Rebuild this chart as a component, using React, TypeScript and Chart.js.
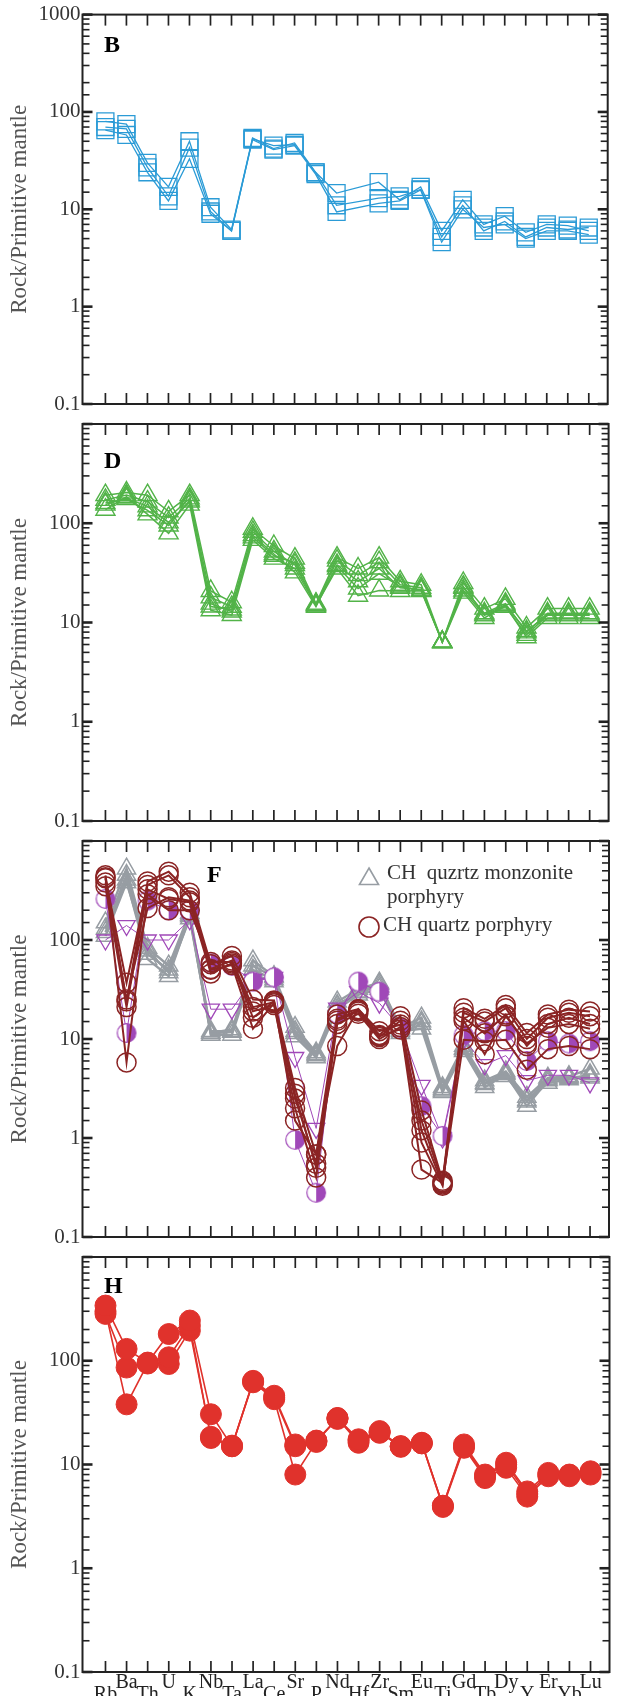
import React, { useEffect, useRef } from 'react';
import { Chart, registerables } from 'chart.js';

Chart.register(...registerables);

const ELEMENTS = ['Rb', 'Ba', 'Th', 'U', 'K', 'Nb', 'Ta', 'La', 'Ce', 'Sr', 'P', 'Nd', 'Hf', 'Zr', 'Sm', 'Eu', 'Ti', 'Gd', 'Tb', 'Dy', 'Y', 'Er', 'Yb', 'Lu'];
const Y_TITLE = 'Rock/Primitive mantle';
const Y_LABELLED = [0.1, 1, 10, 100, 1000];
const LEGEND_F = ['CH  quzrtz monzonite', 'porphyry', 'CH quartz porphyry'];

// Panel B (blue squares)
const B1 = [80, 75, 30, 17, 50, 10.5, 6.2, 54, 42, 48, 24, 14.7, null, 19, 12.5, 17, 6, 12.5, 7, 8.5, 5.8, 7, 6.8, 6];
const B2 = [70, 67, 27, 13.6, 43, 9.5, 6, 53, 45, 46, 24, 11, null, 13, 13.6, 16, 5.2, 11, 6, 7.5, 5.2, 6.5, 6.2, 6.5];
const B3 = [65, 58, 24, 12.2, 33, 9, 6, 52, 41, 45, 23, 9.4, null, 11.5, 12.2, 15.8, 4.6, 10, 6.5, 7, 5, 6, 6, 5.5];

// Panel D (green triangles)
const D1 = [192, 204, 192, 132, 192, 20.8, 16, 88, 59, 44, 15.5, 45, 35, 45, 26, 24, 6.4, 25, 13.8, 17.3, 8.9, 13.8, 13.8, 13.8];
const D2 = [172, 192, 165, 114, 178, 17.9, 14.4, 82, 52, 38, 15, 42, 30, 40.5, 24, 22.4, 6.3, 22.4, 12.4, 15.5, 7.95, 12.4, 12.4, 12.4];
const D3 = [154, 178, 148, 102, 165, 15.5, 12.9, 76, 49, 32, 14.4, 38, 26, 35, 22.4, 21.5, 6.4, 21, 11.8, 14.4, 7.5, 11.8, 11.8, 11.8];
const D4 = [137, 185, 123, 79, 154, 13.3, 11.9, 68, 44, 35, 14.8, 35, 18.6, 21, 20.8, 20.8, 6.3, 20, 11.1, 14.8, 7.1, 11.1, 11.1, 11.1];
const D5 = [160, 175, 135, 95, 170, 14.5, 13.5, 72, 47, 40, 15.2, 37, 22, 31, 23, 21, 6.4, 23, 12, 15, 8.2, 12, 12, 12];

// Panel F: grey triangles (CH quzrtz monzonite porphyry)
const FG1 = [150, 525, 83, 55, 187, 12, 12, 62, 43, 13.2, 7.3, 23.8, 32, 37, 13, 16.4, 3.25, 8.5, 3.8, 4.7, 2.6, 4.05, 4.2, 5];
const FG2 = [130, 453, 72, 50, 180, 11.4, 11.8, 55, 42, 11.4, 6.8, 21.3, 29.5, 34, 11.4, 14.2, 3.0, 7.9, 3.5, 4.2, 2.33, 3.6, 3.9, 4.4];
const FG3 = [120, 405, 64, 43, 174, 11, 11, 50, 40, 10.6, 6.5, 20, 28, 32, 12, 12.7, 2.9, 7.5, 3.25, 4.4, 2.1, 3.8, 4.0, 4.05];
const FG4 = [110, 380, 78, 47, 165, 11.5, 12.5, 45, 38, 12, 7, 22, 30, 36, 12.5, 15, 3.1, 8, 3.6, 4.5, 2.4, 3.9, 4.1, 4.2];
// Panel F: purple inverted triangles and half-filled circles
const FP1 = [100, 140, 100, 100, 160, 20, 20, 40, 42, 6.5, 1.25, 20.5, 30, 23, 13, 3.4, 1.0, 10, 5.5, 6.8, 3.8, 4.3, 4.3, 3.6];
const FH1 = [260, 11.5, 250, 200, 200, 58, 55, 38, 42, 0.96, 0.28, 18, 38, 30, 13, 2.1, 1.05, 11, 12, 12, 6, 9.5, 9, 9.5];
// Panel F: dark red circles (CH quartz porphyry)
const FR1 = [450, 24, 390, 490, 300, 57, 69, 25, 24.5, 3.2, 0.68, 17.7, 20, 11, 17, 1.9, 0.37, 20.5, 16, 22, 11.5, 17.7, 19.8, 19];
const FR2 = [420, 37, 360, 450, 270, 51, 62, 21, 23.5, 2.8, 0.5, 15.3, 19, 10.5, 15.3, 1.2, 0.34, 18.4, 15, 20.5, 10, 16.4, 18.4, 17];
const FR3 = [350, 21, 325, 260, 240, 46, 58, 19, 22, 2.0, 0.4, 14.2, 18, 10, 13.2, 0.9, 0.33, 16.4, 11.4, 17.7, 8.5, 14.2, 16.4, 14.2];
const FR4 = [430, 5.8, 290, 200, 200, 60, 60, 16.4, 24, 1.5, 0.68, 8.5, 20, 12, 14, 0.48, 0.35, 9.8, 9.5, 9.8, 4.9, 7.9, 8.5, 7.9];
const FR5 = [380, 25, 210, 270, 250, 50, 56, 12.7, 23, 2.5, 0.55, 16, 19.5, 10.7, 12.5, 1.5, 0.36, 15.3, 7, 17, 9, 13, 14.2, 12.7];

// Panel H (red filled circles)
const H1 = [340, 130, 96, 181, 244, 30.5, 15, 64, 46, 15.6, 16.8, 28, 17.5, 21, 15, 16.2, 4.0, 15.6, 8.0, 10.4, 5.5, 8.3, 8.0, 8.6];
const H2 = [283, 86, 95, 108, 218, 18, 15, 62, 42.6, 8.0, 16.5, 28, 16.2, 20.2, 15, 16, 3.9, 14.5, 7.4, 9.3, 4.9, 7.7, 7.7, 8.0];
const H3 = [300, 38, 94, 93, 195, 18.5, 15.2, 63, 44, 15, 17, 27.5, 17, 20.5, 14.8, 16, 4.0, 15, 7.8, 10, 5.2, 8, 7.9, 8.3];

const W = 621;
const PLOT_LEFT = 82.5;
const PLOT_RIGHT = 615;
const X_MIN = -1.09;
const X_MAX = 23.9;
const SERIF = "'Liberation Serif', 'Times New Roman', serif";

const BLUE = '#2b9bd6';
const GREEN = '#52b348';
const GREY = '#979da3';
const DARKRED = '#8b2424';
const PURPLE = '#a048b8';
const RED = '#e0322c';

const isPow10 = (v: number) => {
  const l = Math.log10(v);
  return Math.abs(l - Math.round(l)) < 1e-6;
};

function makeHalfCircle(): HTMLCanvasElement {
  const c = document.createElement('canvas');
  c.width = 22;
  c.height = 22;
  const g = c.getContext('2d')!;
  g.beginPath();
  g.arc(11, 11, 9.3, 0, Math.PI * 2);
  g.fillStyle = '#ffffff';
  g.fill();
  g.beginPath();
  g.moveTo(11, 11);
  g.arc(11, 11, 9.3, -Math.PI / 2, Math.PI / 2);
  g.closePath();
  g.fillStyle = PURPLE;
  g.fill();
  g.beginPath();
  g.arc(11, 11, 9.3, 0, Math.PI * 2);
  g.strokeStyle = PURPLE;
  g.lineWidth = 1.2;
  g.stroke();
  return c;
}

function ds(arr: (number | null)[], o: any) {
  return {
    data: arr.map((v, i) => ({ x: i, y: v })),
    borderColor: o.line,
    borderWidth: o.lw,
    pointStyle: o.style,
    pointRadius: o.r,
    pointBorderColor: o.color,
    pointBackgroundColor: o.fill,
    pointBorderWidth: o.pbw,
    pointRotation: o.rot || 0,
    fill: false,
    tension: 0,
    spanGaps: true,
    order: o.order || 0,
  };
}

function line(ctx: CanvasRenderingContext2D, x1: number, y1: number, x2: number, y2: number) {
  ctx.beginPath();
  ctx.moveTo(x1, y1);
  ctx.lineTo(x2, y2);
  ctx.stroke();
}

const framePlugin = {
  id: 'frame',
  afterDraw(chart: any, _args: any, opts: any) {
    const { ctx, chartArea: a, scales } = chart;
    const x = scales.x;
    const y = scales.y;
    ctx.save();
    ctx.strokeStyle = '#222';
    ctx.lineWidth = 1.7;
    ELEMENTS.forEach((_, i) => {
      const px = x.getPixelForValue(i);
      line(ctx, px, a.top, px, a.top + 11);
      line(ctx, px, a.bottom - 11, px, a.bottom);
    });
    y.ticks.forEach((t: any) => {
      const py = y.getPixelForValue(t.value);
      const major = isPow10(t.value);
      ctx.lineWidth = major ? 2.6 : 1.6;
      const len = major ? 10 : 7;
      line(ctx, a.left, py, a.left + len, py);
      line(ctx, a.right - len, py, a.right, py);
    });
    ctx.lineWidth = 2;
    ctx.strokeRect(a.left, a.top, a.right - a.left, a.bottom - a.top);

    ctx.fillStyle = '#000';
    ctx.font = `bold 24px ${SERIF}`;
    ctx.textAlign = 'left';
    ctx.textBaseline = 'alphabetic';
    ctx.fillText(opts.letter, opts.letterX, a.top + opts.letterDy);

    if (opts.legend) {
      // grey triangle
      const tx = 369, ty = a.top + 38, r = 11;
      ctx.strokeStyle = GREY;
      ctx.lineWidth = 1.6;
      ctx.beginPath();
      ctx.moveTo(tx, ty - r);
      ctx.lineTo(tx + r * 0.866, ty + r / 2);
      ctx.lineTo(tx - r * 0.866, ty + r / 2);
      ctx.closePath();
      ctx.stroke();
      // dark red circle
      ctx.strokeStyle = DARKRED;
      ctx.beginPath();
      ctx.arc(369, a.top + 86, 10, 0, Math.PI * 2);
      ctx.stroke();
      ctx.fillStyle = '#333';
      ctx.font = `21px ${SERIF}`;
      ctx.textBaseline = 'middle';
      ctx.fillText(LEGEND_F[0], 387, a.top + 32);
      ctx.fillText(LEGEND_F[1], 387, a.top + 56);
      ctx.fillText(LEGEND_F[2], 383, a.top + 84);
    }
    ctx.restore();
  },
};

type PanelCfg = {
  top: number;
  bottom: number;
  canvasTop: number;
  canvasBottom: number;
  letter: string;
  letterX: number;
  letterDy: number;
  showTopLabel: boolean;
  showX: boolean;
  legend: boolean;
  datasets: () => any[];
};

const PANELS: PanelCfg[] = [
  {
    top: 10, bottom: 424, canvasTop: 0, canvasBottom: 444, letter: 'B', letterX: 104, letterDy: 37,
    showTopLabel: true, showX: false, legend: false,
    datasets: () => [B1, B2, B3].map((a) => ds(a, { line: BLUE, lw: 1.3, style: 'rect', r: 12, color: BLUE, fill: 'rgba(0,0,0,0)', pbw: 1.3 })),
  },
  {
    top: 424, bottom: 841, canvasTop: 404, canvasBottom: 861, letter: 'D', letterX: 104, letterDy: 44,
    showTopLabel: false, showX: false, legend: false,
    datasets: () => [D1, D2, D3, D4, D5].map((a) => ds(a, { line: GREEN, lw: 1.5, style: 'triangle', r: 11, color: GREEN, fill: 'rgba(0,0,0,0)', pbw: 1.4 })),
  },
  {
    top: 841, bottom: 1257, canvasTop: 821, canvasBottom: 1277, letter: 'F', letterX: 207, letterDy: 41,
    showTopLabel: false, showX: false, legend: true,
    datasets: () => {
      const half = makeHalfCircle();
      return [
        ...[FR1, FR2, FR3, FR4, FR5].map((a) => ds(a, { line: DARKRED, lw: 2, style: 'circle', r: 9.5, color: DARKRED, fill: 'rgba(255,255,255,0)', pbw: 1.5, order: 0 })),
        ds(FH1, { line: PURPLE, lw: 1, style: half, r: 9.5, color: PURPLE, fill: PURPLE, pbw: 1.2, order: 1 }),
        ds(FP1, { line: PURPLE, lw: 1, style: 'triangle', r: 10, color: PURPLE, fill: 'rgba(0,0,0,0)', pbw: 1.3, rot: 180, order: 1 }),
        ...[FG1, FG2, FG3, FG4].map((a) => ds(a, { line: GREY, lw: 2.4, style: 'triangle', r: 10.5, color: GREY, fill: 'rgba(0,0,0,0)', pbw: 1.5, order: 2 })),
      ];
    },
  },
  {
    top: 1257, bottom: 1672, canvasTop: 1237, canvasBottom: 1696, letter: 'H', letterX: 104, letterDy: 36,
    showTopLabel: false, showX: true, legend: false,
    datasets: () => [H1, H2, H3].map((a) => ds(a, { line: RED, lw: 1.6, style: 'circle', r: 10.5, color: RED, fill: RED, pbw: 1 })),
  },
];

function Panel({ cfg }: { cfg: PanelCfg }) {
  const ref = useRef<HTMLCanvasElement | null>(null);
  const h = cfg.canvasBottom - cfg.canvasTop;
  useEffect(() => {
    const padTop = cfg.top - cfg.canvasTop;
    const padBottom = cfg.showX ? 0 : cfg.canvasBottom - cfg.bottom;
    const xHeight = cfg.canvasBottom - cfg.bottom;
    const chart = new Chart(ref.current!, {
      type: 'line',
      data: { datasets: cfg.datasets() },
      plugins: [framePlugin as any],
      options: {
        responsive: false,
        animation: false,
        events: [],
        layout: { padding: { left: 0, right: W - PLOT_RIGHT, top: padTop, bottom: padBottom } },
        plugins: {
          legend: { display: false },
          tooltip: { enabled: false },
          frame: { letter: cfg.letter, letterX: cfg.letterX, letterDy: cfg.letterDy, legend: cfg.legend },
        } as any,
        scales: {
          x: {
            type: 'linear',
            min: X_MIN,
            max: X_MAX,
            display: cfg.showX,
            grid: { display: false, drawTicks: false },
            border: { display: false },
            afterBuildTicks: (s: any) => {
              s.ticks = ELEMENTS.map((_, i) => ({ value: i }));
            },
            afterFit: (s: any) => {
              s.height = xHeight;
            },
            ticks: {
              autoSkip: false,
              maxRotation: 0,
              minRotation: 0,
              padding: 5,
              color: '#222',
              font: { family: SERIF, size: 20, lineHeight: '12px' } as any,
              callback: (v: any) => {
                const i = Math.round(Number(v));
                const lab = ELEMENTS[i] ?? '';
                return i % 2 === 0 ? ['', lab] : lab;
              },
            },
          },
          y: {
            type: 'logarithmic',
            min: 0.1,
            max: 1000,
            position: 'left',
            grid: { display: false, drawTicks: false },
            border: { display: false },
            afterFit: (s: any) => {
              s.width = PLOT_LEFT;
            },
            ticks: {
              autoSkip: false,
              padding: 2,
              color: '#333',
              font: { family: SERIF, size: 21 },
              callback: (v: any) => {
                const n = Number(v);
                if (!Y_LABELLED.some((t) => Math.abs(t - n) / t < 1e-6)) return '';
                if (n > 999 && !cfg.showTopLabel) return '';
                return n < 1 ? '0.1' : String(Math.round(n));
              },
            },
            title: {
              display: true,
              text: Y_TITLE,
              color: '#555',
              font: { family: SERIF, size: 23 },
              padding: { top: 6, bottom: 0 },
            },
          },
        },
      } as any,
    });
    return () => chart.destroy();
  }, []);
  return (
    <canvas
      ref={ref}
      width={W}
      height={h}
      style={{ position: 'absolute', left: 0, top: cfg.canvasTop, width: W, height: h }}
    />
  );
}

export default function App() {
  return (
    <div style={{ position: 'absolute', left: 0, top: 0, width: W, height: 1696, background: '#fff', overflow: 'hidden' }}>
      {PANELS.map((p) => (
        <Panel key={p.letter} cfg={p} />
      ))}
    </div>
  );
}
